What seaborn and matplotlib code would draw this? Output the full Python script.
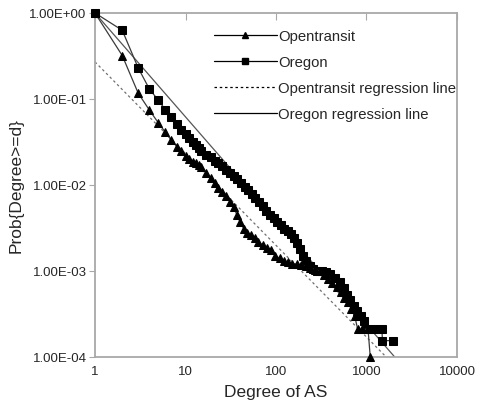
import matplotlib
matplotlib.use("Agg")
from matplotlib import pyplot as plt
from matplotlib.lines import Line2D
import pandas as pd
import seaborn as sns

# degree distribution (CCDF)
oregon_deg = [1, 2, 3, 4, 5, 6, 7, 8, 9, 10, 11, 12, 13, 14, 15, 17, 19, 21, 23, 25,
              28, 31, 34, 37, 41, 45, 49, 54, 59, 65, 71, 78, 86, 94, 103, 113, 124,
              136, 148, 160, 172, 185, 198, 215, 235, 256, 285, 320, 360, 400, 450,
              510, 560, 610, 660, 720, 790, 860, 930, 1000, 1200, 1480, 1500, 1950]
oregon_prob = [1.0, 0.63, 0.23, 0.13, 0.097, 0.075, 0.061, 0.051, 0.044, 0.039, 0.035,
               0.032, 0.029, 0.027, 0.025, 0.0225, 0.021, 0.0192, 0.0178, 0.0166,
               0.015, 0.0137, 0.0126, 0.0116, 0.0105, 0.0096, 0.0088, 0.0079, 0.0071,
               0.0063, 0.0057, 0.005, 0.0045, 0.0041, 0.0037, 0.0034, 0.0031, 0.0029,
               0.0027, 0.0024, 0.0021, 0.0018, 0.0015, 0.0013, 0.00115, 0.00105,
               0.00101, 0.00099, 0.00097, 0.00092, 0.00084, 0.00075, 0.00063, 0.00052,
               0.00046, 0.00039, 0.00034, 0.0003, 0.00026, 0.00021, 0.00021, 0.00021,
               0.000155, 0.000155]

opentransit_deg = [1, 2, 3, 4, 5, 6, 7, 8, 9, 10, 11, 12, 13, 14, 15, 17, 19, 21, 23,
                   25, 28, 31, 34, 37, 40, 44, 48, 53, 58, 64, 71, 79, 88, 98, 110, 122,
                   136, 150, 170, 190, 215, 240, 270, 305, 340, 380, 420, 470, 520, 570,
                   620, 680, 740, 800, 900, 1040, 1100]
opentransit_prob = [1.0, 0.32, 0.117, 0.074, 0.053, 0.041, 0.033, 0.028, 0.025, 0.022,
                    0.02, 0.0187, 0.0178, 0.017, 0.016, 0.0138, 0.012, 0.0105, 0.0093,
                    0.0084, 0.0074, 0.0064, 0.0055, 0.0045, 0.0037, 0.0031, 0.0028,
                    0.0026, 0.0024, 0.0022, 0.002, 0.00185, 0.00175, 0.0015, 0.0014,
                    0.0013, 0.00126, 0.00122, 0.0012, 0.00118, 0.00114, 0.00108, 0.00104,
                    0.001, 0.0009, 0.0008, 0.00072, 0.00066, 0.00057, 0.00049, 0.00044,
                    0.00036, 0.0003, 0.00021, 0.00021, 0.00021, 0.0001]

# regression lines (end points on the log-log axes)
oregon_fit_deg = [1, 2050]
oregon_fit_prob = [1.0, 1e-4]
opentransit_fit_deg = [1, 1650]
opentransit_fit_prob = [0.27, 1e-4]

xticks = [1, 10, 100, 1000, 10000]
xtick_labels = ["1", "10", "100", "1000", "10000"]
yticks = [1e-4, 1e-3, 1e-2, 1e-1, 1]
ytick_labels = ["1.00E-04", "1.00E-03", "1.00E-02", "1.00E-01", "1.00E+00"]

sns.set_style("white")
plt.rcParams["font.family"] = ["Liberation Sans", "DejaVu Sans"]

fig = plt.figure(figsize=(4.84, 4.10), dpi=100)
ax = fig.add_axes([95 / 484, 52 / 410, 362 / 484, 344 / 410])

df_o = pd.DataFrame({"deg": oregon_deg, "prob": oregon_prob})
df_t = pd.DataFrame({"deg": opentransit_deg, "prob": opentransit_prob})

line_c = "#3a3a3a"
dots = (0, (2, 2.2))
sns.lineplot(data=df_o, x="deg", y="prob", ax=ax, estimator=None, sort=False,
             color=line_c, lw=0.9, marker="s", markersize=5.3, markerfacecolor="black",
             markeredgecolor="black", clip_on=False, zorder=3)
sns.lineplot(data=df_t, x="deg", y="prob", ax=ax, estimator=None, sort=False,
             color=line_c, lw=0.9, marker="^", markersize=6.4, markerfacecolor="black",
             markeredgecolor="black", clip_on=False, zorder=3)
sns.lineplot(x=oregon_fit_deg, y=oregon_fit_prob, ax=ax, color="#555555", lw=0.9)
sns.lineplot(x=opentransit_fit_deg, y=opentransit_fit_prob, ax=ax, color="#707070",
             lw=0.9, linestyle=dots)

ax.set_xscale("log")
ax.set_yscale("log")
ax.set_xlim(1, 10000)
ax.set_ylim(1e-4, 1)
ax.set_xticks(xticks)
ax.set_xticklabels(xtick_labels)
ax.set_yticks(yticks)
ax.set_yticklabels(ytick_labels)
ax.minorticks_off()

for s in ax.spines.values():
    s.set_color("#a8a8a8")
    s.set_linewidth(1.3)

ax.tick_params(axis="x", bottom=False, top=True, direction="in", length=5,
               color="#a8a8a8", labelsize=9.5, pad=6, labelbottom=True, labeltop=False)
ax.tick_params(axis="y", left=True, direction="out", length=4, color="#a8a8a8",
               labelsize=9.5, pad=2)

ax.set_xlabel("Degree of AS", fontsize=12.5, labelpad=5)
ax.set_ylabel("Prob{Degree>=d}", fontsize=12.5, labelpad=4)

handles = [
    Line2D([], [], color="black", lw=0.9, marker="^", markersize=5),
    Line2D([], [], color="black", lw=0.9, marker="s", markersize=4),
    Line2D([], [], color="black", lw=0.9, linestyle=dots),
    Line2D([], [], color="black", lw=0.9),
]
labels = ["Opentransit", "Oregon", "Opentransit regression line", "Oregon regression line"]
ax.legend(handles, labels, loc="upper left", bbox_to_anchor=(0.329, 0.953),
          frameon=False, fontsize=10.7, handlelength=4.2, handletextpad=0.1,
          labelspacing=0.8, borderpad=0, borderaxespad=0)

fig.savefig("out.png", dpi=100)
